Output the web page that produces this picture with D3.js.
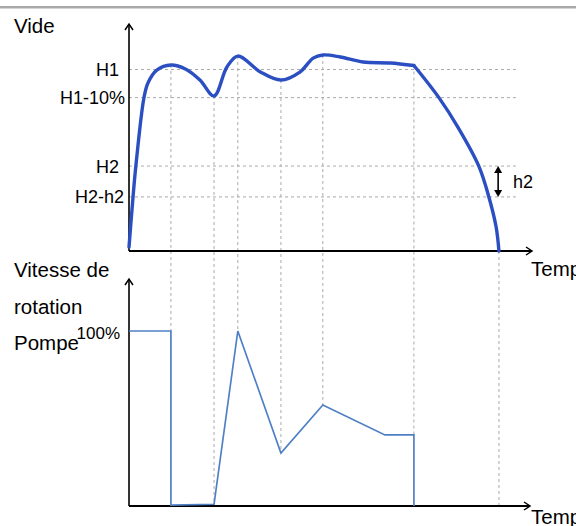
<!DOCTYPE html>
<html><head><meta charset="utf-8">
<script src="https://cdn.jsdelivr.net/npm/d3@7"></script>
<style>body{margin:0;background:#fff;overflow:hidden}svg{display:block;font-family:"Liberation Sans",Arial,sans-serif}</style>
</head><body>
<script>
// ---- data ----
const videT = [0, 1.0, 1.7, 3.7, 4.7, 6.9, 10.4, 14.0, 17.6, 21.1, 24.3, 27.0, 32.5, 37.7, 42.4, 45.7, 48.1, 52.4, 58.1, 64.8, 70.7, 76.9, 81.6, 86.8, 89.3, 91.1, 91.8];
const videV = [2.2, 29.8, 46.8, 84.3, 92.6, 99.7, 102.5, 100.3, 94.2, 85.4, 101.4, 107.4, 98.8, 94.2, 98.6, 106.3, 108.0, 106.9, 104.1, 103.6, 102.2, 84.5, 68.3, 46.8, 29.8, 13.2, 0];
const videKinkIndex = 20; // the curve bends sharply at t = 70.7
const pumpT = [0, 10.4, 10.4, 21.1, 27.0, 37.7, 48.1, 63.5, 70.7, 70.7];
const pumpV = [100, 100, 0.5, 1.0, 100, 30.3, 57.7, 40.6, 40.6, 0];
const levelLabels = ["H1", "H1-10%", "H2", "H2-h2"];
const levelValues = [100, 84.5, 46.8, 29.8];
const markTimes = [10.4, 21.1, 27.0, 37.7, 48.1, 70.7, 91.8];
const markVide = [102.5, 85.4, 107.4, 94.2, 108.0, 102.2, 0];
const markPump = [100, 1.0, 100, 30.3, 57.7, 40.6, 0];
const pumpTickLabel = "100%";
const pumpTickValue = 100;

const W = 576, H = 526;
const svg = d3.select("body").append("svg").attr("width", W).attr("height", H);

const x = d3.scaleLinear().domain([0, 100]).range([129, 532]);
const yTop = d3.scaleLinear().domain([0, 100]).range([251, 69.5]);
const yBot = d3.scaleLinear().domain([0, 100]).range([506, 331]);

// top border
svg.append("rect").attr("x", 0).attr("y", 6).attr("width", W).attr("height", 2.5).attr("fill", "#a9a9a9");

const grid = svg.append("g").attr("stroke", "#aaa").attr("stroke-width", 1).attr("stroke-dasharray", "3,3").attr("fill", "none");
levelValues.forEach(v => {
  grid.append("line").attr("x1", x(0)).attr("x2", x(96)).attr("y1", yTop(v)).attr("y2", yTop(v));
});
markTimes.forEach((t, i) => {
  grid.append("line").attr("x1", x(t)).attr("x2", x(t)).attr("y1", yTop(markVide[i])).attr("y2", yBot(markPump[i]));
});

// axes
const ax = svg.append("g").attr("stroke", "#000").attr("fill", "none");
function vAxis(x0, yb, yt) {
  ax.append("line").attr("x1", x0).attr("x2", x0).attr("y1", yb).attr("y2", yt).attr("stroke-width", 1.6);
  ax.append("path").attr("d", `M${x0-4},${yt+6}L${x0},${yt}L${x0+4},${yt+6}`).attr("stroke-width", 1.5);
}
function hAxis(y0, xl, xr) {
  ax.append("line").attr("x1", xl).attr("x2", xr).attr("y1", y0).attr("y2", y0).attr("stroke-width", 2);
  ax.append("path").attr("d", `M${xr-6},${y0-4}L${xr},${y0}L${xr-6},${y0+4}`).attr("stroke-width", 1.5);
}
vAxis(x(0), yTop(0), 24);
hAxis(yTop(0), x(0), x(100));
vAxis(x(0), yBot(0), 279);
hAxis(yBot(0), x(0), x(99.5));

// curves
const pts = videT.map((t, i) => [t, videV[i]]);
const videLine = d3.line().x(d => x(d[0])).y(d => yTop(d[1])).curve(d3.curveCatmullRom.alpha(0.5));
const videG = svg.append("g").attr("fill", "none").attr("stroke", "#2b4fc2").attr("stroke-width", 3.4)
  .attr("stroke-linejoin", "round").attr("stroke-linecap", "round");
videG.append("path").attr("d", videLine(pts.slice(0, videKinkIndex + 1)));
videG.append("path").attr("d", videLine(pts.slice(videKinkIndex)));

const pumpLine = d3.line().x(d => x(d[0])).y(d => yBot(d[1]));
svg.append("path").attr("d", pumpLine(pumpT.map((t, i) => [t, pumpV[i]])))
  .attr("fill", "none").attr("stroke", "#4f80c6").attr("stroke-width", 1.7);

// h2 arrow
const ha = x(91.6);
const y1 = yTop(levelValues[2]), y2 = yTop(levelValues[3]);
svg.append("line").attr("x1", ha).attr("x2", ha).attr("y1", y1 + 4).attr("y2", y2 - 4).attr("stroke", "#000").attr("stroke-width", 1.6);
svg.append("path").attr("d", `M${ha-4},${y1+7}L${ha},${y1}L${ha+4},${y1+7}Z`).attr("fill", "#000");
svg.append("path").attr("d", `M${ha-4},${y2-7}L${ha},${y2}L${ha+4},${y2-7}Z`).attr("fill", "#000");
svg.append("text").attr("x", 513).attr("y", 188).attr("font-size", 18).text("h2");

// text labels
const tx = svg.append("g").attr("fill", "#000");
tx.append("text").attr("x", 14).attr("y", 33).attr("font-size", 20.5).text("Vide");
const rightEdges = [119, 125, 119, 124];
levelLabels.forEach((l, i) => {
  tx.append("text").attr("x", rightEdges[i]).attr("y", yTop(levelValues[i]) + 6.5)
    .attr("text-anchor", "end").attr("font-size", 18).text(l);
});
tx.append("text").attr("x", 14).attr("y", 277).attr("font-size", 20.5).text("Vitesse de");
tx.append("text").attr("x", 14).attr("y", 313.5).attr("font-size", 20.5).text("rotation");
tx.append("text").attr("x", 14).attr("y", 350).attr("font-size", 20.5).text("Pompe");
tx.append("text").attr("x", 120).attr("y", yBot(pumpTickValue) + 7.5).attr("text-anchor", "end").attr("font-size", 17).text(pumpTickLabel);
tx.append("text").attr("x", 531).attr("y", 276).attr("font-size", 20.5).text("Temps");
tx.append("text").attr("x", 531).attr("y", 523.5).attr("font-size", 20.5).text("Temps");
</script>
</body></html>
